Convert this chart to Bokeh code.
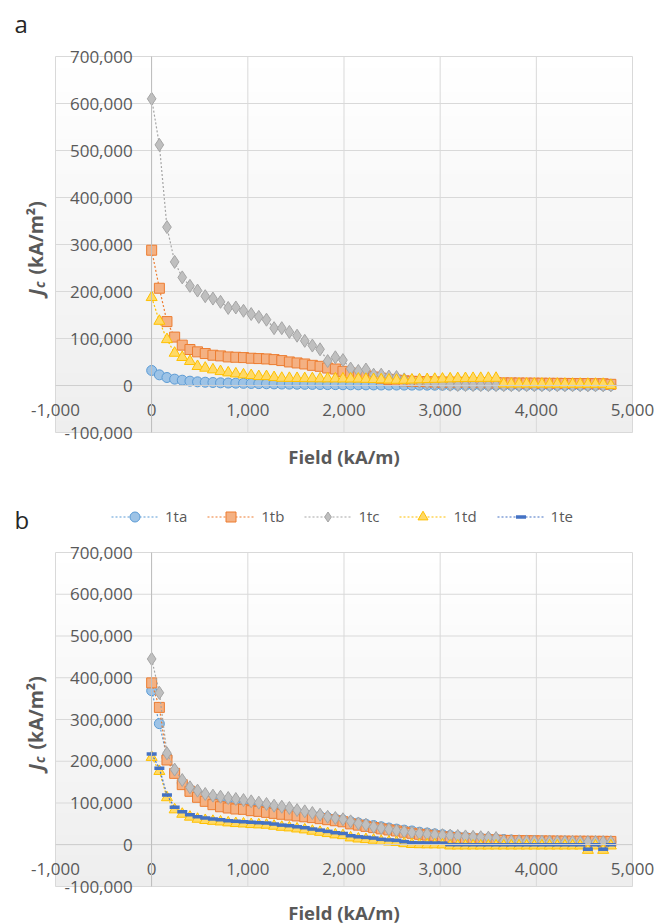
import math
from bokeh.plotting import figure
from bokeh.models import (Range1d, FixedTicker, NumeralTickFormatter, Label,
                          Legend, LegendItem, BoxAnnotation)
from bokeh.layouts import column
from bokeh.embed import file_html
from bokeh.resources import INLINE

FONT = "Open Sans"
TXT = "#595959"

X_TICKS = [-1000, 0, 1000, 2000, 3000, 4000, 5000]
Y_TICKS = [-100000, 0, 100000, 200000, 300000, 400000, 500000, 600000, 700000]

FIELD = [0, 80, 159, 239, 318, 398, 477, 557, 637, 716, 796, 875, 955, 1035, 1114,
         1194, 1273, 1353, 1432, 1512, 1592, 1671, 1751, 1830, 1910, 1989, 2069,
         2149, 2228, 2308, 2387, 2467, 2546, 2626, 2706, 2785, 2865, 2944, 3024,
         3104, 3183, 3263, 3342, 3422, 3501, 3581, 3661, 3740, 3820, 3899, 3979,
         4058, 4138, 4218, 4297, 4377, 4456, 4536, 4615, 4695, 4775]

# ---- panel a ----
A_1TA = [32000, 22700, 17000, 13500, 11300, 9200, 7800, 7000, 6400, 5700, 5300, 5000,
         4600, 4300, 4000, 3700, 3400, 3100, 2900, 2700, 2500, 2300, 2100, 1900, 1800,
         1600, 1500, 1400, 1300, 1200, 1100, 1000, 950, 900, 850, 800, 750, 700, 650,
         600, 560, 520, 500, 480, 450, 430, 400, 380, 360, 340, 320, 300, 290, 270,
         250, 240, 220, 200, 190, 170, 150]
A_1TB = [287800, 206900, 136000, 103000, 85900, 76600, 71600, 68000, 64400, 63000,
         60800, 60100, 59400, 58000, 57300, 56500, 55100, 53000, 50100, 48000, 45800,
         42900, 40800, 37200, 35100, 30100, 26500, 23000, 20500, 18000, 15500, 13000,
         11500, 10000, 9000, 8500, 8000, 7600, 7200, 7000, 6800, 6600, 6400, 6200,
         6000, 5800, 5600, 5500, 5300, 5200, 5000, 4900, 4700, 4600, 4400, 4300, 4100,
         4000, 3800, 3700, 2500]
A_1TC = [610000, 512000, 337000, 263000, 230000, 212000, 202000, 190000, 185000,
         178000, 165000, 166000, 159000, 152000, 146000, 140000, 122000, 122000,
         114000, 106000, 95000, 85000, 77000, 52000, 60000, 54000, 36000, 31000, 34000,
         23000, 23000, 19000, 18000, 13000, 10000, 8000, 6000, 4000, 2500, 1500, 1000,
         900, 800, 700, 650, 600, 550, 500, 480, 450, 420, 400, 380, 350, 330, 300,
         280, 260, 240, 220, 200]
A_1TD = [187500, 137000, 98000, 69000, 60000, 51500, 40800, 37200, 33600, 30000, 27200,
         25000, 22900, 21500, 19300, 19300, 17200, 15700, 15500, 15300, 15000, 14800,
         14600, 14500, 14400, 14300, 14200, 14000, 13500, 13000, 12500, 12000, 11500,
         11500, 12000, 12500, 13000, 13500, 14000, 14500, 15000, 15200, 15400, 15500,
         15600, 15700, 3600, 3500, 3500, 3400, 3400, 3300, 3300, 3200, 3200, 3100,
         3100, 3000, 3000, 2900, 500]

# ---- panel b ----
B_1TA = [369000, 290000, 210000, 172000, 148000, 132000, 122000, 113000, 107000,
         103000, 100000, 97000, 95000, 92000, 90000, 88000, 85000, 82000, 80000, 77000,
         74000, 71000, 68000, 65000, 62000, 59000, 55000, 52000, 49000, 46000, 43000,
         40000, 37500, 35000, 33000, 30000, 28000, 26000, 24000, 22000, 20000, 18500,
         17000, 16000, 15000, 14000, 12500, 11500, 10500, 10000, 9500, 9000, 8800,
         8600, 8400, 8200, 8000, 7800, 7600, 7400, 7200]
B_1TB = [387700, 329000, 203000, 171000, 144000, 128000, 113600, 104000, 96000, 91000,
         88000, 85600, 84800, 81600, 80000, 77600, 75200, 73000, 71000, 69000, 67000,
         65000, 62500, 60000, 57500, 55000, 50000, 47000, 44000, 41000, 38000, 35500,
         33000, 30000, 27500, 25000, 23000, 21000, 19000, 17500, 16000, 15000, 14000,
         13000, 12000, 11000, 10500, 10000, 9800, 9600, 9400, 9200, 9000, 8800, 8700,
         8600, 8500, 8400, 8300, 8200, 8000]
B_1TC = [445000, 364000, 219000, 180000, 155000, 137600, 129600, 121600, 117600,
         115000, 112000, 109600, 107000, 104000, 100800, 97600, 93600, 91000, 88000,
         83000, 80000, 76000, 72000, 67000, 64000, 61000, 56000, 51000, 48000, 43000,
         40000, 37000, 34000, 31500, 29000, 27000, 25500, 24000, 23000, 22000, 21000,
         20000, 19000, 18000, 17000, 16000, 9000, 8600, 8300, 8000, 7800, 7600, 7400,
         7200, 7000, 6900, 6800, 6700, 6600, 6500, 6400]
B_1TD = [209600, 176000, 113000, 84000, 73500, 66500, 61500, 58500, 56500, 55000, 52800,
         51200, 50200, 48800, 48000, 47200, 44800, 42200, 40800, 38200, 36000, 32800,
         30200, 27200, 24000, 22200, 16800, 14200, 12800, 11200, 8500, 7000, 6000, 3000,
         1000, 500, 300, 200, 100, -2500, -2500, -2500, -2500, -2500, -2500, -2500,
         -2500, -2500, -2500, -2500, -2500, -2500, -2500, -2500, -2500, -2500, -2500,
         -13000, -2500, -13000, -2500]
B_1TE = [217600, 183000, 119000, 89600, 79000, 72000, 67000, 64000, 61600, 60000, 57600,
         56000, 55000, 53600, 52800, 52000, 49600, 47000, 45600, 43000, 40800, 37600,
         35000, 32000, 28800, 27000, 21600, 19000, 17600, 16000, 13000, 11500, 10500,
         7500, 5000, 4500, 4300, 4100, 3900, 300, 200, 200, 100, 100, 100, 0, 0, 0, 0,
         0, 0, 0, 0, 0, 0, 0, 0, -10700, 0, -10700, 0]

SERIES_NAMES = ["1ta", "1tb", "1tc", "1td", "1te"]

STYLE = {
    "1ta": dict(marker="circle", size=10, fill_color="#9dc3e6", line_color="#5b9bd5", line_width=1),
    "1tb": dict(marker="square", size=10, fill_color="#f4b183", line_color="#ed7d31", line_width=1),
    "1tc": dict(marker="diamond", size=13, fill_color="#bfbfbf", line_color="#a5a5a5", line_width=1),
    "1td": dict(marker="triangle", size=11, fill_color="#ffd966", line_color="#ffc000", line_width=1),
    "1te": dict(marker="dash", size=10, fill_color="#4472c4", line_color="#4472c4", line_width=3.5),
}

W = 670
PL, PR = 55, 632           # plot-area left / right pixel (both panels)
XMIN, XMAX = X_TICKS[0], X_TICKS[-1]
YMIN, YMAX = Y_TICKS[0], Y_TICKS[-1]


def make_panel(height, ptop, pbot, letter, data, title_y, letter_base, legend_bottom=None):
    # the frame spans the whole canvas; ranges chosen so the plot area sits at
    # pixels [PL, PR] x [ptop, pbot]
    xpp = (XMAX - XMIN) / (PR - PL)
    ypp = (YMAX - YMIN) / (pbot - ptop)
    xr = Range1d(XMIN - PL * xpp, XMAX + (W - PR) * xpp)
    yr = Range1d(YMIN - (height - pbot) * ypp, YMAX + ptop * ypp)
    p = figure(width=W, height=height, output_backend="svg", toolbar_location=None,
               x_range=xr, y_range=yr, min_border=0, min_border_left=0,
               min_border_right=0, min_border_top=0, min_border_bottom=0)
    p.background_fill_color = "white"
    p.border_fill_color = "white"
    p.outline_line_color = None
    p.xgrid.visible = False
    p.ygrid.visible = False

    # soft vertical gradient of the plot area
    n = 32
    step = (YMAX - YMIN) / n
    for k in range(n):
        b = YMIN + k * step
        t = min(YMAX, b + step * 1.08)
        shade = int(round(0xee + (0xff - 0xee) * (k + 0.5) / n))
        col = "#%02x%02x%02x" % (shade, shade, shade)
        p.add_layout(BoxAnnotation(left=XMIN, right=XMAX, bottom=b, top=t,
                                   fill_color=col, fill_alpha=1, line_color=None,
                                   level="image"))

    # grid lines (from the tick lists), limited to the plot area
    p.segment(x0=X_TICKS, y0=[YMIN] * len(X_TICKS), x1=X_TICKS, y1=[YMAX] * len(X_TICKS),
              line_color="#d9d9d9", line_width=1, level="underlay")
    p.segment(x0=[XMIN] * len(Y_TICKS), y0=Y_TICKS, x1=[XMAX] * len(Y_TICKS), y1=Y_TICKS,
              line_color="#d9d9d9", line_width=1, level="underlay")

    xa = p.xaxis[0]
    ya = p.yaxis[0]
    xa.fixed_location = 0
    ya.fixed_location = 0
    xa.bounds = (XMIN, XMAX)
    ya.bounds = (YMIN, YMAX)
    xa.ticker = FixedTicker(ticks=X_TICKS)
    ya.ticker = FixedTicker(ticks=Y_TICKS)
    for ax in (xa, ya):
        ax.formatter = NumeralTickFormatter(format="0,0")
        ax.major_tick_line_color = None
        ax.minor_tick_line_color = None
        ax.major_tick_out = 0
        ax.major_tick_in = 0
        ax.major_label_text_font = FONT
        ax.major_label_text_font_size = "17px"
        ax.major_label_text_color = TXT
    xa.major_label_standoff = 18
    ya.major_label_standoff = 19
    xa.axis_line_color = "#cfcfcf"
    ya.axis_line_color = "#bfbfbf"

    items = []
    for name, ys in data:
        st = STYLE[name]
        ln = p.line(FIELD, ys, line_color=st["line_color"], line_width=1.2, line_dash="2 2")
        sc = p.scatter(FIELD, ys, marker=st["marker"], size=st["size"],
                       fill_color=st["fill_color"], line_color=st["line_color"],
                       line_width=st["line_width"])
        items.append(LegendItem(label=name, renderers=[ln, sc]))

    if legend_bottom is not None:
        leg = Legend(items=items, location=(111, height - legend_bottom),
                     orientation="horizontal", padding=0, margin=0, spacing=20,
                     label_standoff=7, glyph_width=47, glyph_height=25,
                     label_text_font=FONT, label_text_font_size="15px",
                     label_text_color=TXT, background_fill_alpha=0,
                     border_line_color=None)
        p.add_layout(leg)

    # panel letter
    p.add_layout(Label(x=14, y=height - letter_base, x_units="screen", y_units="screen",
                       text=letter, text_font=FONT, text_font_size="24px",
                       text_color="#262626", text_baseline="alphabetic"))
    # x-axis title
    p.add_layout(Label(x=(PL + PR) / 2, y=height - title_y, x_units="screen",
                       y_units="screen", text="Field (kA/m)", text_align="center",
                       text_baseline="middle", text_font=FONT, text_font_style="bold",
                       text_font_size="18.5px", text_color=TXT))
    # y-axis title: J_c (kA/m²), rotated
    yc = height - (ptop + pbot) / 2
    y0 = yc - 51
    xb = 35
    p.add_layout(Label(x=xb, y=y0, x_units="screen", y_units="screen", text="J",
                       angle=math.pi / 2, text_align="left", text_baseline="alphabetic",
                       text_font=FONT, text_font_style="bold italic",
                       text_font_size="19.5px", text_color=TXT))
    p.add_layout(Label(x=xb + 4.5, y=y0 + 7.5, x_units="screen", y_units="screen", text="c",
                       angle=math.pi / 2, text_align="left", text_baseline="alphabetic",
                       text_font=FONT, text_font_style="bold italic",
                       text_font_size="13.5px", text_color=TXT))
    p.add_layout(Label(x=xb, y=y0 + 21, x_units="screen", y_units="screen",
                       text="(kA/m²)", angle=math.pi / 2, text_align="left",
                       text_baseline="alphabetic", text_font=FONT,
                       text_font_style="bold", text_font_size="19.5px", text_color=TXT))
    return p


pa = make_panel(470, 56, 432, "a",
                [("1ta", A_1TA), ("1tb", A_1TB), ("1tc", A_1TC), ("1td", A_1TD)],
                title_y=456, letter_base=23)
pb = make_panel(454, 82, 416, "b",
                [("1ta", B_1TA), ("1tb", B_1TB), ("1tc", B_1TC), ("1td", B_1TD),
                 ("1te", B_1TE)], title_y=442, letter_base=49, legend_bottom=58.5)

layout = column(pa, pb, spacing=0)
open("out.html", "w").write(file_html(layout, INLINE))
